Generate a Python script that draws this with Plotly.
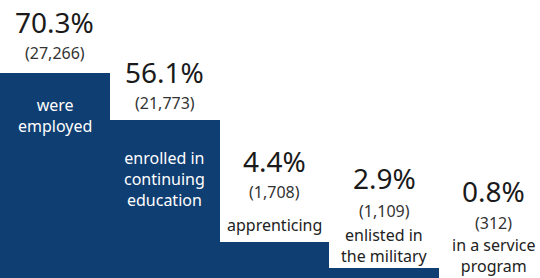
import plotly.graph_objects as go

# ---- data ----
categories = ["were employed", "enrolled in continuing education", "apprenticing",
              "enlisted in the military", "in a service program"]
label_lines = ["were<br>employed", "enrolled in<br>continuing<br>education", "apprenticing",
               "enlisted in<br>the military", "in a service<br>program"]
percentages = [70.3, 56.1, 4.4, 2.9, 0.8]
counts = [27266, 21773, 1708, 1109, 312]
# stylised step heights as drawn in the picture (visual units)
step_heights = [205, 158, 36, 10, 0]

# ---- layout tuning (pixel rows from top) ----
W, H = 540, 278
pct_row = [22, 72, 161, 178, 191]
count_row = [53, 103, 192, 211, 223]
label_row = [115, 179, 225, 245, 255.5]
label_inside = [True, True, False, False, False]

BAR = "#0f3e72"
FONT = "Noto Sans, Open Sans, sans-serif"

x = list(range(len(categories)))
fig = go.Figure(go.Bar(x=x, y=step_heights, marker=dict(color=BAR, line=dict(width=0)),
                       width=1.0, hoverinfo="skip"))

def py(px):
    return 1 - px / H

ann = []
for i in x:
    ann.append(dict(x=i, y=py(pct_row[i]), xref="x", yref="paper", text=f"{percentages[i]:.1f}%",
                    showarrow=False, yanchor="middle",
                    font=dict(family=FONT, size=28, color="#1a1a1a")))
    ann.append(dict(x=i, y=py(count_row[i]), xref="x", yref="paper", text=f"({counts[i]:,})",
                    showarrow=False, yanchor="middle",
                    font=dict(family=FONT, size=16, color="#333333")))
    ann.append(dict(x=i, y=py(label_row[i]), xref="x", yref="paper", text=label_lines[i],
                    showarrow=False, yanchor="middle",
                    font=dict(family=FONT, size=16,
                              color="#ffffff" if label_inside[i] else "#222222")))

fig.update_layout(
    width=W, height=H, margin=dict(l=0, r=0, t=0, b=0),
    paper_bgcolor="white", plot_bgcolor="white",
    bargap=0, showlegend=False, annotations=ann,
    xaxis=dict(range=[-0.5, 4.42], visible=False, fixedrange=True),
    yaxis=dict(range=[0, H], visible=False, fixedrange=True),
)
fig.write_html("out.html", config={"displayModeBar": False},
               post_script="document.body.style.margin='0';document.body.style.overflow='hidden';")
